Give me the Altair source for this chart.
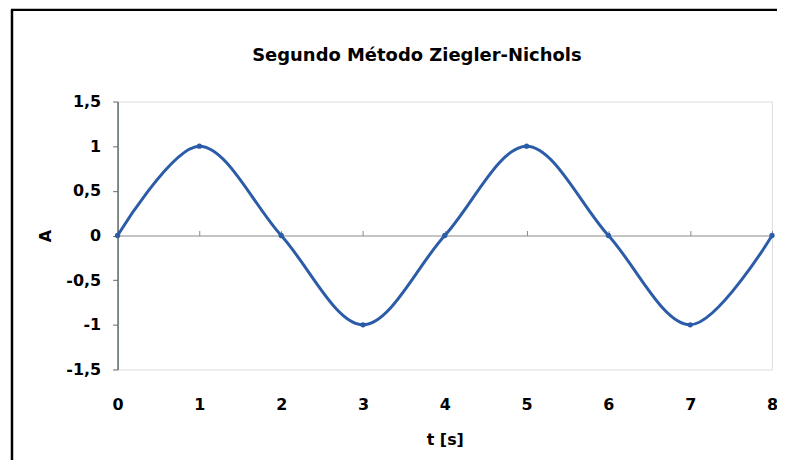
import altair as alt
import pandas as pd

# Data
t_values = [0, 1, 2, 3, 4, 5, 6, 7, 8]
a_values = [0, 1, 0, -1, 0, 1, 0, -1, 0]
y_ticks = [-1.5, -1, -0.5, 0, 0.5, 1, 1.5]
x_ticks = [0, 1, 2, 3, 4, 5, 6, 7, 8]

df = pd.DataFrame({"t": t_values, "A": a_values})

FONT = "DejaVu Sans"
LINE = "#2B5CA8"

x_scale = alt.Scale(domain=[0, 8], nice=False, zero=False)
y_scale = alt.Scale(domain=[-1.5, 1.5], nice=False)

y_enc = alt.Y(
    "A:Q",
    scale=y_scale,
    axis=alt.Axis(
        values=y_ticks,
        title="A",
        labelExpr="replace(toString(datum.value), '.', ',')",
        grid=False,
        domain=True,
        domainColor="#5f6d66",
        domainWidth=1.5,
        ticks=True,
        tickColor="#5f6d66",
        tickSize=5,
        tickWidth=1,
        labelPadding=12,
        labelFlush=False,
        labelFont=FONT,
        labelFontSize=16,
        labelFontWeight="bold",
        labelColor="black",
        titleFont=FONT,
        titleFontSize=16,
        titleFontWeight="bold",
        titleColor="black",
        titleX=-72,
        titleY=134.5,
        titleAngle=270,
        titleAlign="center",
        titleBaseline="middle",
    ),
)

# axis with labels at bottom (Excel "low" labels)
x_label_axis = alt.Axis(
    values=x_ticks,
    title="t [s]",
    grid=False,
    domain=False,
    ticks=False,
    labelPadding=27,
    labelFlush=False,
    labelFont=FONT,
    labelFontSize=16,
    labelFontWeight="bold",
    labelColor="black",
    titleFont=FONT,
    titleFontSize=16,
    titleFontWeight="bold",
    titleColor="black",
    titleY=62,
    titleBaseline="top",
)

# axis line crossing at A = 0 with tick marks
x_zero_axis = alt.Axis(
    values=x_ticks,
    title=None,
    grid=False,
    labels=False,
    domain=True,
    domainColor="#8a8a8a",
    domainWidth=1.2,
    ticks=True,
    tickColor="#8a8a8a",
    tickSize=5,
    offset=-134.5,
)

line = alt.Chart(df).mark_line(
    interpolate="catmull-rom", color=LINE, strokeWidth=3
).encode(
    x=alt.X("t:Q", scale=x_scale, axis=x_label_axis),
    y=y_enc,
)

points = alt.Chart(df).mark_point(
    filled=True, size=28, color=LINE, opacity=1
).encode(
    x=alt.X("t:Q", scale=x_scale, axis=x_zero_axis),
    y=y_enc,
)

frame_df = pd.DataFrame({"d": [0]})
left_border = alt.Chart(frame_df).mark_rule(color="black", strokeWidth=2.5).encode(
    x=alt.value(-106), y=alt.value(-92), y2=alt.value(367)
)
top_border = alt.Chart(frame_df).mark_rule(color="black", strokeWidth=2.5).encode(
    x=alt.value(-107), x2=alt.value(667), y=alt.value(-92)
)

chart = (
    alt.layer(line, points, left_border, top_border)
    .resolve_axis(x="independent")
    .properties(
        width=657,
        height=269,
        autosize=alt.AutoSizeParams(type="none"),
        padding={"left": 110, "top": 93, "right": 5, "bottom": 90},
        title=alt.TitleParams(
            "Segundo Método Ziegler-Nichols",
            font=FONT,
            fontSize=18,
            fontWeight="bold",
            color="black",
            anchor="middle",
            dx=-28,
            offset=0,
            dy=71,
            baseline="alphabetic",
        ),
    )
    .configure_view(stroke="#a8a8a8", strokeWidth=1)
    .configure(background="white")
)

chart.save("out.html", embed_options={"renderer": "svg", "actions": False})
